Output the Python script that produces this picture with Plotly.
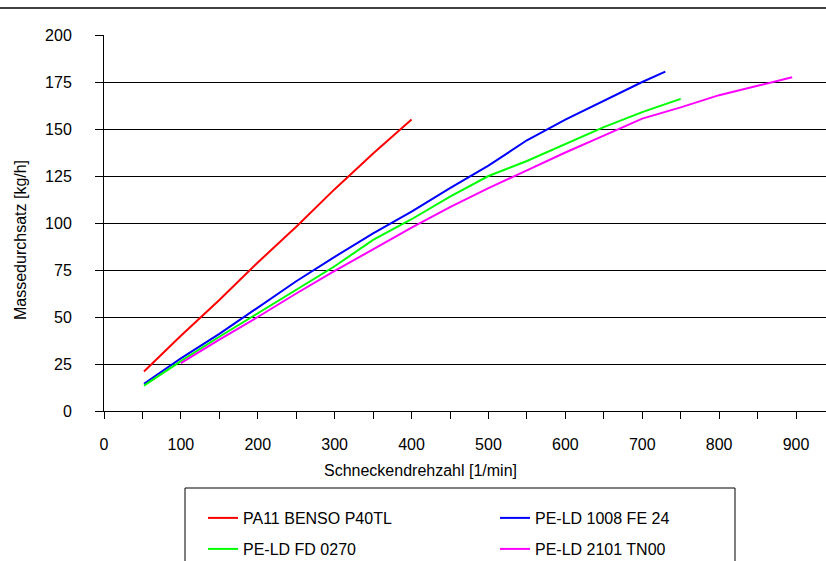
import plotly.graph_objects as go

# ---- data ----
red_x = [52, 100, 150, 200, 250, 300, 350, 400]
red_y = [21, 40, 59, 79, 98, 118, 137, 155]

blue_x = [52, 100, 150, 200, 250, 300, 350, 400, 450, 500, 550, 600, 650, 700, 730]
blue_y = [14.5, 28, 41, 55, 69, 82, 94.5, 106, 118.5, 130.5, 144, 155, 165, 175, 180.5]

green_x = [52, 100, 150, 200, 250, 300, 350, 400, 450, 500, 550, 600, 650, 700, 750]
green_y = [13.5, 26.5, 39.5, 52, 64.5, 77, 91, 102, 114, 125, 133, 142, 151, 159, 166]

mag_x = [100, 150, 200, 250, 300, 350, 400, 450, 500, 550, 600, 650, 700, 750, 800, 850, 895]
mag_y = [25.5, 38, 50, 62.5, 74.5, 86, 97.5, 108.5, 118.5, 128, 137.5, 146.5, 155.5, 161.5, 168, 173, 177.5]

names = ["PA11 BENSO P40TL", "PE-LD 1008 FE 24", "PE-LD FD 0270", "PE-LD 2101 TN00"]
colors = ["#ff0000", "#0000ff", "#00ff00", "#ff00ff"]

x_title = "Schneckendrehzahl [1/min]"
y_title = "Massedurchsatz [kg/h]"

W, H = 826, 561
L, T, R, B = 104, 35, 826, 411
pw, ph = R - L, B - T

def px(x):
    return (x - L) / pw

def py(y):
    return (B - y) / ph

FONT = "Liberation Sans, Arial, sans-serif"

fig = go.Figure()
series = [(red_x, red_y), (blue_x, blue_y), (green_x, green_y), (mag_x, mag_y)]
legends = ["legend", "legend", "legend2", "legend2"]
for (xs, ys), n, c, lg in zip(series, names, colors, legends):
    fig.add_trace(go.Scatter(x=xs, y=ys, mode="lines", name=n,
                             line=dict(color=c, width=2), legend=lg))

fig.update_layout(
    width=W, height=H,
    margin=dict(l=L, r=W - R, t=T, b=H - B, autoexpand=False),
    paper_bgcolor="white", plot_bgcolor="white",
    font=dict(family=FONT, size=16, color="black"),
    showlegend=True,
    legend=dict(orientation="h", x=px(203), y=py(518), xanchor="left", yanchor="middle",
                entrywidth=247, entrywidthmode="pixels", bgcolor="rgba(0,0,0,0)",
                font=dict(family=FONT, size=16)),
    legend2=dict(orientation="h", x=px(203), y=py(549), xanchor="left", yanchor="middle",
                 entrywidth=247, entrywidthmode="pixels", bgcolor="rgba(0,0,0,0)",
                 font=dict(family=FONT, size=16)),
    xaxis=dict(range=[0, (R - L) / 0.7689], tickmode="linear", tick0=0, dtick=100,
               showgrid=False, zeroline=False, showline=True, linecolor="black", linewidth=1,
               ticks="outside", ticklen=7, tickcolor="black", ticklabelstandoff=12,
               minor=dict(dtick=50, ticks="outside", ticklen=7, tickcolor="black", showgrid=False),
               tickfont=dict(size=16)),
    yaxis=dict(range=[0, 200], tickmode="linear", tick0=0, dtick=25,
               showgrid=True, gridcolor="black", gridwidth=1, zeroline=False,
               showline=True, linecolor="black", linewidth=1,
               ticks="outside", ticklen=8, tickcolor="black", ticklabelstandoff=20,
               tickfont=dict(size=16)),
    annotations=[
        dict(text=x_title, x=px(420), y=py(470), xref="paper", yref="paper",
             showarrow=False, xanchor="center", yanchor="middle", font=dict(size=16)),
        dict(text=y_title, x=px(20), y=py(240), xref="paper", yref="paper",
             showarrow=False, xanchor="center", yanchor="middle", textangle=-90,
             font=dict(size=16)),
    ],
    shapes=[
        dict(type="line", xref="paper", yref="paper", x0=px(0), x1=px(W), y0=py(8), y1=py(8),
             line=dict(color="#404040", width=2)),
        dict(type="rect", xref="paper", yref="paper", x0=px(185), x1=px(735),
             y0=py(600), y1=py(488), line=dict(color="black", width=1)),
    ],
)

fig.write_html("out.html", config={"displayModeBar": False},
               post_script="document.body.style.margin='0';")
